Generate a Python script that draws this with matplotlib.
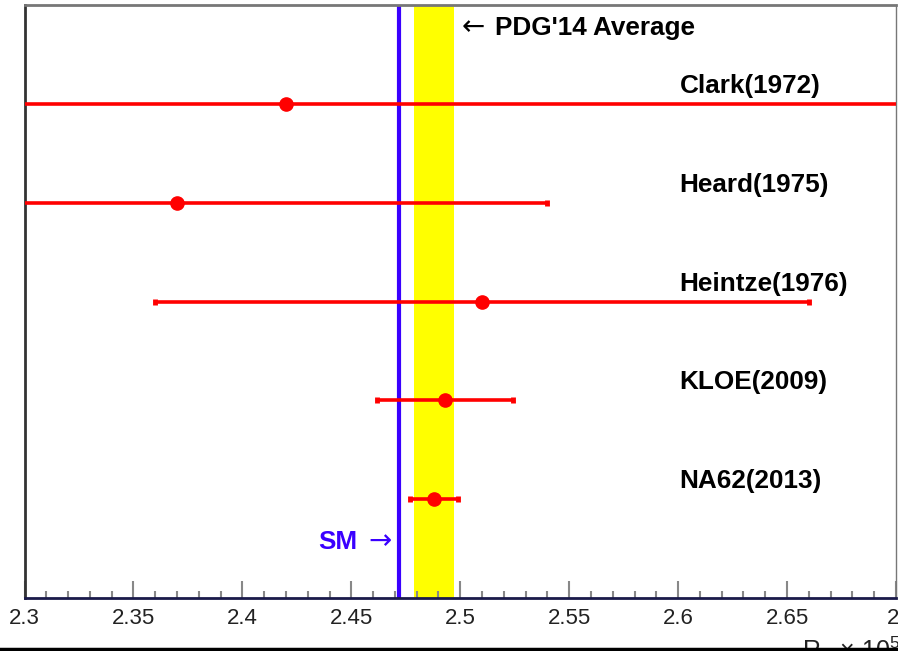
import matplotlib
matplotlib.use("Agg")
import matplotlib.pyplot as plt
from matplotlib.ticker import MultipleLocator
from matplotlib.lines import Line2D

plt.rcParams['font.family'] = ['Liberation Sans', 'DejaVu Sans']
plt.rcParams['mathtext.fontset'] = 'custom'
plt.rcParams['mathtext.rm'] = 'Liberation Sans'
plt.rcParams['mathtext.it'] = 'Liberation Sans:italic'

# Data
experiments = ["Clark(1972)", "Heard(1975)", "Heintze(1976)", "KLOE(2009)", "NA62(2013)"]
values = [2.42, 2.37, 2.51, 2.493, 2.488]
errors = [0.42, 0.17, 0.15, 0.031, 0.011]
y_pos = [5, 4, 3, 2, 1]
sm_value = 2.472
pdg_value = 2.488
pdg_error = 0.009
xticks = [2.3, 2.35, 2.4, 2.45, 2.5, 2.55, 2.6, 2.65, 2.7]
xtick_labels = ["2.3", "2.35", "2.4", "2.45", "2.5", "2.55", "2.6", "2.65", "2."]

fig = plt.figure(figsize=(8.98, 6.51), dpi=100)
ax = fig.add_axes([24.5/898, 1-598/651, (896-24.5)/898, (598-5)/651])
ax.set_xlim(2.3, 2.7)
ax.set_ylim(0, 6)

blue = '#3a00ff'
ax.axvspan(pdg_value - pdg_error, pdg_value + pdg_error, color='#ffff00', zorder=1, lw=0)
ax.axvline(sm_value, color=blue, lw=3, zorder=2)

ax.errorbar(values, y_pos, xerr=errors, fmt='o', color='#ff0000', ms=9.5,
            elinewidth=2.6, capsize=2.2, capthick=3.5, zorder=3)

for name, y in zip(experiments, y_pos):
    ax.text(2.6007, y + 0.11, name, fontsize=18.8, fontweight='bold',
            ha='left', va='baseline', zorder=4)

ax.text(2.5007, 5.70, "\u2190", fontsize=20, family='DejaVu Sans',
        ha='left', va='baseline', zorder=4)
ax.text(2.5158, 5.70, "PDG'14 Average", fontsize=18.8, fontweight='bold',
        ha='left', va='baseline', zorder=4)
ax.text(2.4528, 0.50, "SM", fontsize=18.8, fontweight='bold', color=blue,
        ha='right', va='baseline', zorder=4)
ax.text(2.4686, 0.50, "\u2192", fontsize=20, family='DejaVu Sans', color=blue,
        ha='right', va='baseline', zorder=4)

ax.set_xticks(xticks)
ax.set_xticklabels(xtick_labels, fontsize=16, color='#222222')
ax.xaxis.set_minor_locator(MultipleLocator(0.01))
ax.tick_params(axis='x', which='major', direction='in', length=12, width=1.5, color='#888888', pad=7)
ax.tick_params(axis='x', which='minor', direction='in', length=5, width=1.5, color='#888888')
ax.set_yticks([])

ax.spines['left'].set_color('#333333')
ax.spines['left'].set_linewidth(2)
ax.spines['bottom'].set_color('#1a1a4a')
ax.spines['bottom'].set_linewidth(2)
ax.spines['top'].set_color('#777777')
ax.spines['top'].set_linewidth(2)
ax.spines['right'].set_color('#777777')
ax.spines['right'].set_linewidth(1)

fig.text(1.002, 1-659/651, r"R$_{K}$ $\times$ 10$^{5}$", fontsize=18, ha='right',
         va='baseline', color='#222222')

fig.add_artist(Line2D([0, 1], [1-649/651, 1-649/651], transform=fig.transFigure,
                      color='black', lw=2.5, zorder=10))

fig.savefig("out.png", dpi=100)
